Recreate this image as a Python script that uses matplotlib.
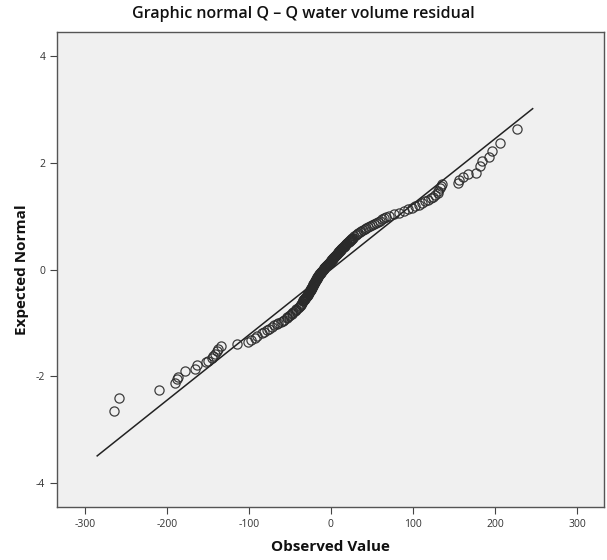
import matplotlib
matplotlib.use("Agg")
import matplotlib.pyplot as plt

# Lower tail points (read individually)
lower_exp = [-2.65, -2.41, -2.26, -2.14, -2.06, -2.01, -1.90, -1.86, -1.79, -1.74, -1.71,
             -1.67, -1.63, -1.58, -1.53, -1.49, -1.44, -1.40, -1.37, -1.33, -1.28, -1.24]
lower_obs = [-265, -258, -210, -190, -188, -186, -178, -166, -163, -152, -150,
             -145, -144, -141, -139, -138, -134, -115, -101, -97, -93, -90]

# Dense central band
mid_exp = [-1.20, -1.17, -1.14, -1.11, -1.08, -1.05, -1.02,
           -1.00, -0.98, -0.96, -0.94, -0.92, -0.90, -0.88, -0.86, -0.84, -0.82, -0.80, -0.78,
           -0.76, -0.74, -0.72, -0.70, -0.68, -0.66, -0.64, -0.62,
           -0.60, -0.59, -0.58, -0.57, -0.56, -0.55, -0.54, -0.53, -0.52, -0.51, -0.50, -0.49,
           -0.48, -0.47, -0.46, -0.45, -0.44, -0.43, -0.42, -0.41, -0.40, -0.39, -0.38, -0.37,
           -0.36, -0.35, -0.34, -0.33, -0.32, -0.31, -0.30, -0.29, -0.28, -0.27, -0.26, -0.25,
           -0.24, -0.23, -0.22, -0.21, -0.20, -0.19, -0.18, -0.17, -0.16, -0.15, -0.14, -0.13,
           -0.12, -0.11, -0.10, -0.09, -0.08, -0.07, -0.06, -0.05, -0.04, -0.03, -0.02, -0.01,
           0.00, 0.01, 0.02, 0.03, 0.04, 0.05, 0.06, 0.07, 0.08, 0.09, 0.10, 0.11,
           0.12, 0.13, 0.14, 0.15, 0.16, 0.17, 0.18, 0.19, 0.20, 0.21, 0.22, 0.23,
           0.24, 0.25, 0.26, 0.27, 0.28, 0.29, 0.30, 0.31, 0.32, 0.33, 0.34, 0.35,
           0.36, 0.37, 0.38, 0.39, 0.40, 0.41, 0.42, 0.43, 0.44, 0.45, 0.46, 0.47,
           0.48, 0.49, 0.50, 0.51, 0.52, 0.53, 0.54, 0.55, 0.56, 0.57, 0.58, 0.59, 0.60,
           0.62, 0.64, 0.66, 0.68, 0.70, 0.72, 0.74, 0.76, 0.78, 0.80, 0.82, 0.84,
           0.86, 0.88, 0.90, 0.92, 0.94, 0.96, 0.98,
           1.01, 1.04, 1.07, 1.10, 1.13, 1.16, 1.19, 1.22, 1.25, 1.28, 1.31, 1.34, 1.37, 1.40, 1.43]
mid_obs = [-84, -81, -78, -75, -72, -69, -66,
           -64, -61, -59, -57, -54, -53, -51, -50, -48, -47, -46, -44,
           -43, -42, -40, -39, -38, -37, -36, -35.5,
           -34.5, -34.0, -33.5, -33.0, -32.5, -32.0, -31.5, -31.0, -30.5, -30.0, -29.5, -29.1,
           -28.7, -28.3, -27.9, -27.5, -27.1, -26.7, -26.3, -25.9, -25.5, -25.1, -24.8, -24.4,
           -24.1, -23.7, -23.4, -23.0, -22.7, -22.3, -22.0, -21.6, -21.3, -20.9, -20.6, -20.2,
           -19.9, -19.5, -19.2, -18.8, -18.5, -18.1, -17.7, -17.3, -16.9, -16.5, -16.1, -15.7,
           -15.3, -14.9, -14.5, -14.0, -13.5, -13.0, -12.5, -12.0, -11.5, -11.0, -10.5, -10.0,
           -9.5, -9.0, -8.4, -7.9, -7.3, -6.8, -6.2, -5.7, -5.1, -4.6, -4.0, -3.4,
           -2.8, -2.2, -1.6, -1.0, -0.4, 0.2, 0.8, 1.4, 2.0, 2.5, 3.1, 3.6,
           4.2, 4.7, 5.3, 5.8, 6.4, 6.9, 7.5, 8.1, 8.7, 9.3, 9.9, 10.5,
           11.1, 11.7, 12.3, 12.9, 13.5, 14.1, 14.8, 15.4, 16.1, 16.7, 17.4, 18.0,
           18.7, 19.3, 20.0, 20.7, 21.5, 22.1, 22.8, 23.4, 24.1, 24.7, 25.4, 26.1, 26.8,
           28.6, 30.2, 31.8, 33.4, 35.0, 37.0, 39.0, 41.0, 43.0, 45.1, 47.4, 49.8,
           52.2, 54.6, 57.0, 59.6, 62.2, 64.8, 67.4,
           71, 77, 83, 89, 94, 98.5, 103, 107, 111, 115, 118.5, 121.5, 124.5, 127.5, 130]

# Upper tail points (read individually)
upper_exp = [1.48, 1.53, 1.57, 1.61, 1.63, 1.68, 1.74, 1.79, 1.82, 1.94, 2.04, 2.11, 2.22, 2.38, 2.63]
upper_obs = [131, 133, 134, 136, 155, 156, 161, 167, 177, 182, 184, 193, 196, 206, 226.5]

# Reference line (expected normal = observed / sd)
line_obs = [-285, 246]
line_exp = [-3.50, 3.02]

x_ticks = [-300, -200, -100, 0, 100, 200, 300]
y_ticks = [-4, -2, 0, 2, 4]

title = "Graphic normal Q – Q water volume residual"
xlabel = "Observed Value"
ylabel = "Expected Normal"

plt.rcParams["font.family"] = ["Open Sans", "DejaVu Sans"]
plt.rcParams["axes.unicode_minus"] = False

fig = plt.figure(figsize=(6.07, 5.60), dpi=100)
ax = fig.add_axes([57 / 607, 1 - 507 / 560, (604 - 57) / 607, (507 - 32) / 560])
ax.set_facecolor("#f0f0f0")

obs = lower_obs + mid_obs + upper_obs
exp = lower_exp + mid_exp + upper_exp
ax.plot(line_obs, line_exp, color="#222222", lw=1.1, zorder=2)
ax.plot(obs, exp, linestyle="none", marker="o", ms=6.6, mfc="none",
        mec="#2a2a2a", mew=0.9, alpha=0.9, zorder=3)

ax.set_xlim(-334, 333)
ax.set_ylim(-4.46, 4.46)
ax.set_xticks(x_ticks)
ax.set_yticks(y_ticks)
ax.tick_params(direction="out", length=5, width=0.8, color="#444444",
               labelsize=7.5, labelcolor="#333333")
for s in ax.spines.values():
    s.set_color("#555555")
    s.set_linewidth(1.0)

fig.text(0.5, 1 - 14 / 560, title, ha="center", va="center", fontsize=11.5,
         fontweight="semibold", color="#111111")
ax.set_xlabel(xlabel, fontsize=11, fontweight="bold", color="#111111", labelpad=7)
ax.set_ylabel(ylabel, fontsize=11, fontweight="bold", color="#111111", labelpad=5)

fig.savefig("out.png", dpi=100, facecolor="white")
